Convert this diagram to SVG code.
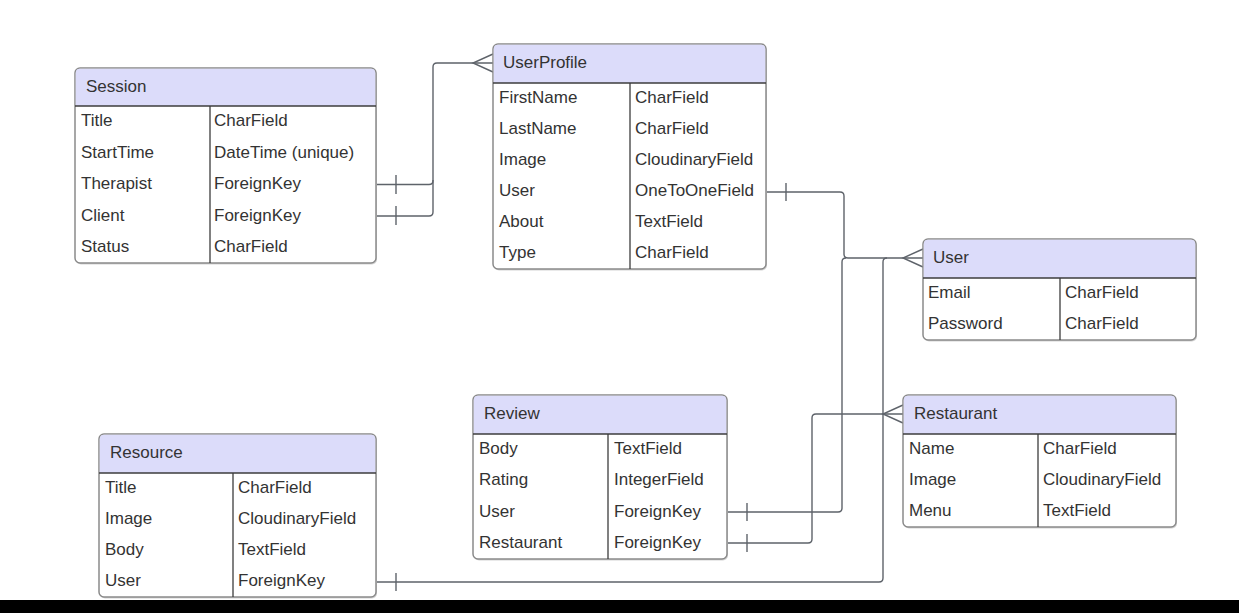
<svg xmlns="http://www.w3.org/2000/svg" width="1239" height="613" viewBox="0 0 1239 613">
  <style>
    .shadow { fill: #d4d4d4; }
    .box { fill: #ffffff; stroke: #8a8a8a; stroke-width: 1.5; }
    .head { fill: #dcdcfa; }
    .rule { stroke: #3c3c3c; stroke-width: 1.3; fill: none; }
    .edge { stroke: #5e636a; stroke-width: 1.4; fill: none; }
    .t { font-family: "Liberation Sans", Arial, sans-serif; font-size: 17px; fill: #333333; }
  </style>

  <rect x="0" y="0" width="1239" height="613" fill="#ffffff"/>

  <!-- relationship lines -->
  <g id="connectors">
    <!-- Session.Therapist -> UserProfile -->
    <path class="edge" d="M376,184.5 H429 Q433,184.5 433,180.5 V67 Q433,63 437,63 H493"/>
    <!-- Session.Client -> UserProfile -->
    <path class="edge" d="M376,216 H429 Q433,216 433,212 V180"/>
    <line class="edge" x1="396" y1="175" x2="396" y2="194"/>
    <line class="edge" x1="396" y1="206" x2="396" y2="225"/>
    <path class="edge" d="M493,54 L473,63 L493,72"/>

    <!-- UserProfile.User -> User -->
    <path class="edge" d="M766,192 H840 Q844,192 844,196 V254 Q844,258 848,258 H923"/>
    <line class="edge" x1="786" y1="183" x2="786" y2="201"/>

    <!-- Review.User -> User -->
    <path class="edge" d="M727,512 H838 Q842,512 842,508 V262 Q842,258 846,258"/>
    <line class="edge" x1="747" y1="503" x2="747" y2="521"/>

    <!-- Resource.User -> User -->
    <path class="edge" d="M376,582 H879 Q883,582 883,578 V262 Q883,258 887,258"/>
    <line class="edge" x1="396" y1="573" x2="396" y2="591"/>

    <path class="edge" d="M923,249 L903,258 L923,267"/>

    <!-- Review.Restaurant -> Restaurant -->
    <path class="edge" d="M727,543 H808 Q812,543 812,539 V418 Q812,414 816,414 H903"/>
    <line class="edge" x1="747" y1="534" x2="747" y2="552"/>
    <path class="edge" d="M903,405 L883,414 L903,423"/>
  </g>

  <!-- Session -->
  <g id="session">
    <rect class="shadow" x="76" y="69.5" width="301" height="195" rx="5"/>
    <rect class="box" x="75" y="68" width="301" height="195" rx="5"/>
    <path class="head" d="M80,68.75 H371 Q375.25,68.75 375.25,73 V106 H75.75 V73 Q75.75,68.75 80,68.75 Z"/>
    <line class="rule" x1="75" y1="106" x2="376" y2="106"/>
    <line class="rule" x1="210" y1="106" x2="210" y2="263"/>
    <text class="t" x="86" y="91.5">Session</text>
    <text class="t" x="81" y="126">Title</text>
    <text class="t" x="214" y="126">CharField</text>
    <text class="t" x="81" y="157.5">StartTime</text>
    <text class="t" x="214" y="157.5">DateTime (unique)</text>
    <text class="t" x="81" y="189">Therapist</text>
    <text class="t" x="214" y="189">ForeignKey</text>
    <text class="t" x="81" y="220.5">Client</text>
    <text class="t" x="214" y="220.5">ForeignKey</text>
    <text class="t" x="81" y="252">Status</text>
    <text class="t" x="214" y="252">CharField</text>
  </g>

  <!-- UserProfile -->
  <g id="userprofile">
    <rect class="shadow" x="494" y="45.5" width="273" height="225" rx="5"/>
    <rect class="box" x="493" y="44" width="273" height="225" rx="5"/>
    <path class="head" d="M498,44.75 H761 Q765.25,44.75 765.25,49 V83 H493.75 V49 Q493.75,44.75 498,44.75 Z"/>
    <line class="rule" x1="493" y1="83" x2="766" y2="83"/>
    <line class="rule" x1="630" y1="83" x2="630" y2="269"/>
    <text class="t" x="503" y="68">UserProfile</text>
    <text class="t" x="499" y="103">FirstName</text>
    <text class="t" x="635" y="103">CharField</text>
    <text class="t" x="499" y="134">LastName</text>
    <text class="t" x="635" y="134">CharField</text>
    <text class="t" x="499" y="165">Image</text>
    <text class="t" x="635" y="165">CloudinaryField</text>
    <text class="t" x="499" y="196">User</text>
    <text class="t" x="635" y="196">OneToOneField</text>
    <text class="t" x="499" y="227">About</text>
    <text class="t" x="635" y="227">TextField</text>
    <text class="t" x="499" y="258">Type</text>
    <text class="t" x="635" y="258">CharField</text>
  </g>

  <!-- User -->
  <g id="user">
    <rect class="shadow" x="924" y="240.5" width="273" height="101" rx="5"/>
    <rect class="box" x="923" y="239" width="273" height="101" rx="5"/>
    <path class="head" d="M928,239.75 H1191 Q1195.25,239.75 1195.25,244 V278 H923.75 V244 Q923.75,239.75 928,239.75 Z"/>
    <line class="rule" x1="923" y1="278" x2="1196" y2="278"/>
    <line class="rule" x1="1060" y1="278" x2="1060" y2="340"/>
    <text class="t" x="933" y="263">User</text>
    <text class="t" x="928" y="298">Email</text>
    <text class="t" x="1065" y="298">CharField</text>
    <text class="t" x="928" y="329">Password</text>
    <text class="t" x="1065" y="329">CharField</text>
  </g>

  <!-- Review -->
  <g id="review">
    <rect class="shadow" x="474" y="396.5" width="254" height="164" rx="5"/>
    <rect class="box" x="473" y="395" width="254" height="164" rx="5"/>
    <path class="head" d="M478,395.75 H722 Q726.25,395.75 726.25,400 V434 H473.75 V400 Q473.75,395.75 478,395.75 Z"/>
    <line class="rule" x1="473" y1="434" x2="727" y2="434"/>
    <line class="rule" x1="608" y1="434" x2="608" y2="559"/>
    <text class="t" x="484" y="419">Review</text>
    <text class="t" x="479" y="454">Body</text>
    <text class="t" x="614" y="454">TextField</text>
    <text class="t" x="479" y="485.4">Rating</text>
    <text class="t" x="614" y="485.4">IntegerField</text>
    <text class="t" x="479" y="516.6">User</text>
    <text class="t" x="614" y="516.6">ForeignKey</text>
    <text class="t" x="479" y="547.9">Restaurant</text>
    <text class="t" x="614" y="547.9">ForeignKey</text>
  </g>

  <!-- Restaurant -->
  <g id="restaurant">
    <rect class="shadow" x="904" y="396.5" width="273" height="132" rx="5"/>
    <rect class="box" x="903" y="395" width="273" height="132" rx="5"/>
    <path class="head" d="M908,395.75 H1171 Q1175.25,395.75 1175.25,400 V434 H903.75 V400 Q903.75,395.75 908,395.75 Z"/>
    <line class="rule" x1="903" y1="434" x2="1176" y2="434"/>
    <line class="rule" x1="1038" y1="434" x2="1038" y2="527"/>
    <text class="t" x="914" y="419">Restaurant</text>
    <text class="t" x="909" y="454">Name</text>
    <text class="t" x="1043" y="454">CharField</text>
    <text class="t" x="909" y="485">Image</text>
    <text class="t" x="1043" y="485">CloudinaryField</text>
    <text class="t" x="909" y="516">Menu</text>
    <text class="t" x="1043" y="516">TextField</text>
  </g>

  <!-- Resource -->
  <g id="resource">
    <rect class="shadow" x="100" y="435.5" width="277" height="163" rx="5"/>
    <rect class="box" x="99" y="434" width="277" height="163" rx="5"/>
    <path class="head" d="M104,434.75 H371 Q375.25,434.75 375.25,439 V473 H99.75 V439 Q99.75,434.75 104,434.75 Z"/>
    <line class="rule" x1="99" y1="473" x2="376" y2="473"/>
    <line class="rule" x1="233" y1="473" x2="233" y2="597"/>
    <text class="t" x="110" y="458">Resource</text>
    <text class="t" x="105" y="493">Title</text>
    <text class="t" x="238" y="493">CharField</text>
    <text class="t" x="105" y="524">Image</text>
    <text class="t" x="238" y="524">CloudinaryField</text>
    <text class="t" x="105" y="555">Body</text>
    <text class="t" x="238" y="555">TextField</text>
    <text class="t" x="105" y="586">User</text>
    <text class="t" x="238" y="586">ForeignKey</text>
  </g>

  <!-- dark strip along the bottom edge -->
  <rect x="0" y="600" width="1239" height="13" fill="#000000"/>
</svg>
